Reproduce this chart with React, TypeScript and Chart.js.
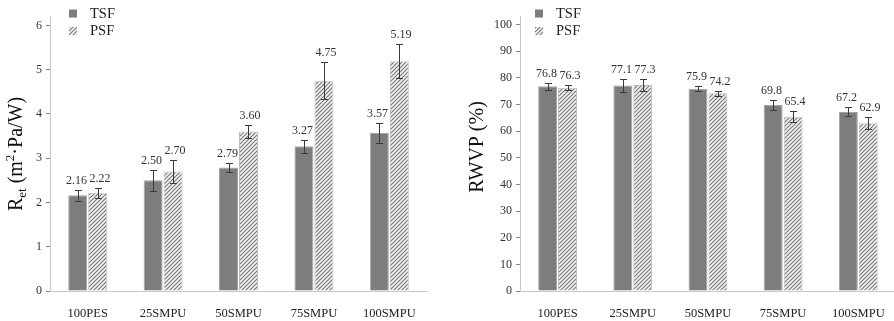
import React, { useEffect, useRef } from 'react';
import { Chart, registerables } from 'chart.js';

Chart.register(...registerables);

// ---------- data ----------
const categories = ['100PES', '25SMPU', '50SMPU', '75SMPU', '100SMPU'];
const seriesNames = ['TSF', 'PSF'];

const retTSF = [2.16, 2.5, 2.79, 3.27, 3.57];
const retPSF = [2.22, 2.7, 3.6, 4.75, 5.19];
const retTSFErr = [0.12, 0.24, 0.1, 0.15, 0.23];
const retPSFErr = [0.11, 0.25, 0.14, 0.42, 0.38];
const retTicks = [0, 1, 2, 3, 4, 5, 6];

const rwvpTSF = [76.8, 77.1, 75.9, 69.8, 67.2];
const rwvpPSF = [76.3, 77.3, 74.2, 65.4, 62.9];
const rwvpTSFErr = [1.2, 2.5, 1.0, 1.7, 1.7];
const rwvpPSFErr = [1.0, 2.4, 0.9, 2.1, 2.3];
const rwvpTicks = [0, 10, 20, 30, 40, 50, 60, 70, 80, 90, 100];

const FONT = '"Liberation Serif", "Times New Roman", serif';

function makeHatch(): CanvasPattern | string {
  const c = document.createElement('canvas');
  const s = 4;
  c.width = s;
  c.height = s;
  const g = c.getContext('2d');
  if (!g) return '#ddd';
  g.fillStyle = '#f4f4f4';
  g.fillRect(0, 0, s, s);
  g.strokeStyle = '#7a7a7a';
  g.lineWidth = 1.2;
  g.beginPath();
  g.moveTo(-1, 1);
  g.lineTo(1, -1);
  g.moveTo(0, s);
  g.lineTo(s, 0);
  g.moveTo(s - 1, s + 1);
  g.lineTo(s + 1, s - 1);
  g.stroke();
  const p = g.createPattern(c, 'repeat');
  return p || '#ddd';
}

type Seg = { text: string; size: number; shift: number };

const decorPlugin = {
  id: 'decor',
  afterDatasetsDraw(chart: any, _args: any, opts: any) {
    const ctx: CanvasRenderingContext2D = chart.ctx;
    const y = chart.scales.y;
    // error bars + value labels
    chart.data.datasets.forEach((ds: any, di: number) => {
      const meta = chart.getDatasetMeta(di);
      const errs: number[] = opts.errors[di];
      meta.data.forEach((el: any, i: number) => {
        const v = ds.data[i];
        const e = errs[i];
        const x = Math.round(el.x) + 0.5;
        const yt = Math.round(y.getPixelForValue(v + e)) + 0.5;
        const yb = Math.round(y.getPixelForValue(v - e)) + 0.5;
        ctx.save();
        ctx.strokeStyle = '#3a3a3a';
        ctx.lineWidth = 1;
        ctx.beginPath();
        ctx.moveTo(x, yt);
        ctx.lineTo(x, yb);
        ctx.moveTo(x - 3.5, yt);
        ctx.lineTo(x + 3.5, yt);
        ctx.moveTo(x - 3.5, yb);
        ctx.lineTo(x + 3.5, yb);
        ctx.stroke();
        ctx.fillStyle = '#333';
        ctx.font = '12px ' + FONT;
        ctx.textAlign = 'center';
        ctx.textBaseline = 'bottom';
        const dx = di === 0 ? -2 : 1.5;
        ctx.fillText(v.toFixed(opts.decimals), x + dx, yt - 4);
        ctx.restore();
      });
    });
  },
  afterDraw(chart: any, _args: any, opts: any) {
    const ctx: CanvasRenderingContext2D = chart.ctx;
    // legend
    chart.data.datasets.forEach((ds: any, di: number) => {
      const rowY = 13.5 + di * 17.5;
      ctx.save();
      ctx.fillStyle = ds.backgroundColor;
      ctx.fillRect(opts.legendX, rowY - 4, 8, 8);
      ctx.fillStyle = '#222';
      ctx.font = '14.5px ' + FONT;
      ctx.textAlign = 'left';
      ctx.textBaseline = 'middle';
      ctx.fillText(ds.label, opts.legendX + 21, rowY + 0.5);
      ctx.restore();
    });
    // rotated rich title
    const segs: Seg[] = opts.title;
    ctx.save();
    let total = 0;
    segs.forEach((s) => {
      ctx.font = s.size + 'px ' + FONT;
      total += ctx.measureText(s.text).width;
    });
    ctx.translate(opts.titleX, opts.titleY);
    ctx.rotate(-Math.PI / 2);
    ctx.fillStyle = '#111';
    ctx.textAlign = 'left';
    ctx.textBaseline = 'alphabetic';
    let cx = -total / 2;
    segs.forEach((s) => {
      ctx.font = s.size + 'px ' + FONT;
      ctx.fillText(s.text, cx, 7 + s.shift);
      cx += ctx.measureText(s.text).width;
    });
    ctx.restore();
  },
};

type PanelSpec = {
  tsf: number[];
  psf: number[];
  tsfErr: number[];
  psfErr: number[];
  ticks: number[];
  max: number;
  decimals: number;
  areaLeft: number;
  padRight: number;
  title: Seg[];
  titleX: number;
  titleY: number;
  legendX: number;
};

function buildConfig(p: PanelSpec): any {
  const hatch = makeHatch();
  return {
    type: 'bar',
    data: {
      labels: categories,
      datasets: [
        {
          label: seriesNames[0],
          data: p.tsf,
          backgroundColor: '#7d7d7d',
          borderColor: '#a3a3a3',
          borderWidth: 1,
          categoryPercentage: 0.53,
          barPercentage: 0.95,
        },
        {
          label: seriesNames[1],
          data: p.psf,
          backgroundColor: hatch,
          borderColor: '#bdbdbd',
          borderWidth: 1,
          categoryPercentage: 0.53,
          barPercentage: 0.95,
        },
      ],
    },
    options: {
      responsive: false,
      animation: false,
      devicePixelRatio: 1,
      layout: { padding: { left: 0, right: p.padRight, top: 16.5, bottom: 0 } },
      plugins: {
        legend: { display: false },
        tooltip: { enabled: false },
        decor: {
          errors: [p.tsfErr, p.psfErr],
          decimals: p.decimals,
          title: p.title,
          titleX: p.titleX,
          titleY: p.titleY,
          legendX: p.legendX,
        },
      },
      scales: {
        x: {
          type: 'category',
          offset: true,
          grid: { display: false, drawTicks: false },
          border: { display: true, color: '#c8c8c8', width: 1 },
          ticks: {
            padding: 15,
            color: '#222',
            font: { family: FONT, size: 12.5 },
            maxRotation: 0,
            autoSkip: false,
          },
          afterFit: (s: any) => {
            s.height = 30;
          },
        },
        y: {
          min: 0,
          max: p.max,
          grid: {
            display: true,
            drawOnChartArea: false,
            drawTicks: true,
            tickLength: 4,
            color: '#888',
          },
          border: { display: true, color: '#c8c8c8', width: 1 },
          ticks: {
            padding: 4,
            color: '#333',
            font: { family: FONT, size: 12 },
            includeBounds: false,
          },
          afterBuildTicks: (s: any) => {
            s.ticks = p.ticks.map((v) => ({ value: v }));
          },
          afterFit: (s: any) => {
            s.width = p.areaLeft;
          },
        },
      },
    },
    plugins: [decorPlugin],
  };
}

function Panel({ spec, left, width }: { spec: PanelSpec; left: number; width: number }) {
  const ref = useRef<HTMLCanvasElement | null>(null);
  useEffect(() => {
    if (!ref.current) return;
    const chart = new Chart(ref.current, buildConfig(spec));
    return () => chart.destroy();
  }, []);
  return (
    <div style={{ position: 'absolute', left, top: 0, width, height: 321 }}>
      <canvas ref={ref} width={width} height={321} style={{ display: 'block' }} />
    </div>
  );
}

const leftSpec: PanelSpec = {
  tsf: retTSF,
  psf: retPSF,
  tsfErr: retTSFErr,
  psfErr: retPSFErr,
  ticks: retTicks,
  max: 6.2,
  decimals: 2,
  areaLeft: 50,
  padRight: 20,
  title: [
    { text: 'R', size: 20, shift: 0 },
    { text: 'et', size: 13, shift: 4 },
    { text: ' (m', size: 20, shift: 0 },
    { text: '2', size: 13, shift: -8 },
    { text: '\u00b7Pa/W)', size: 20, shift: 0 },
  ],
  titleX: 15,
  titleY: 154,
  legendX: 69,
};

const rightSpec: PanelSpec = {
  tsf: rwvpTSF,
  psf: rwvpPSF,
  tsfErr: rwvpTSFErr,
  psfErr: rwvpPSFErr,
  ticks: rwvpTicks,
  max: 103,
  decimals: 1,
  areaLeft: 73,
  padRight: 3,
  title: [{ text: 'RWVP (%)', size: 20, shift: 0 }],
  titleX: 28.5,
  titleY: 147,
  legendX: 88,
};

export default function App() {
  return (
    <div
      style={{
        position: 'fixed',
        left: 0,
        top: 0,
        width: 894,
        height: 321,
        overflow: 'hidden',
        background: '#fff',
      }}
    >
      <Panel spec={leftSpec} left={0} width={447} />
      <Panel spec={rightSpec} left={447} width={453} />
    </div>
  );
}
